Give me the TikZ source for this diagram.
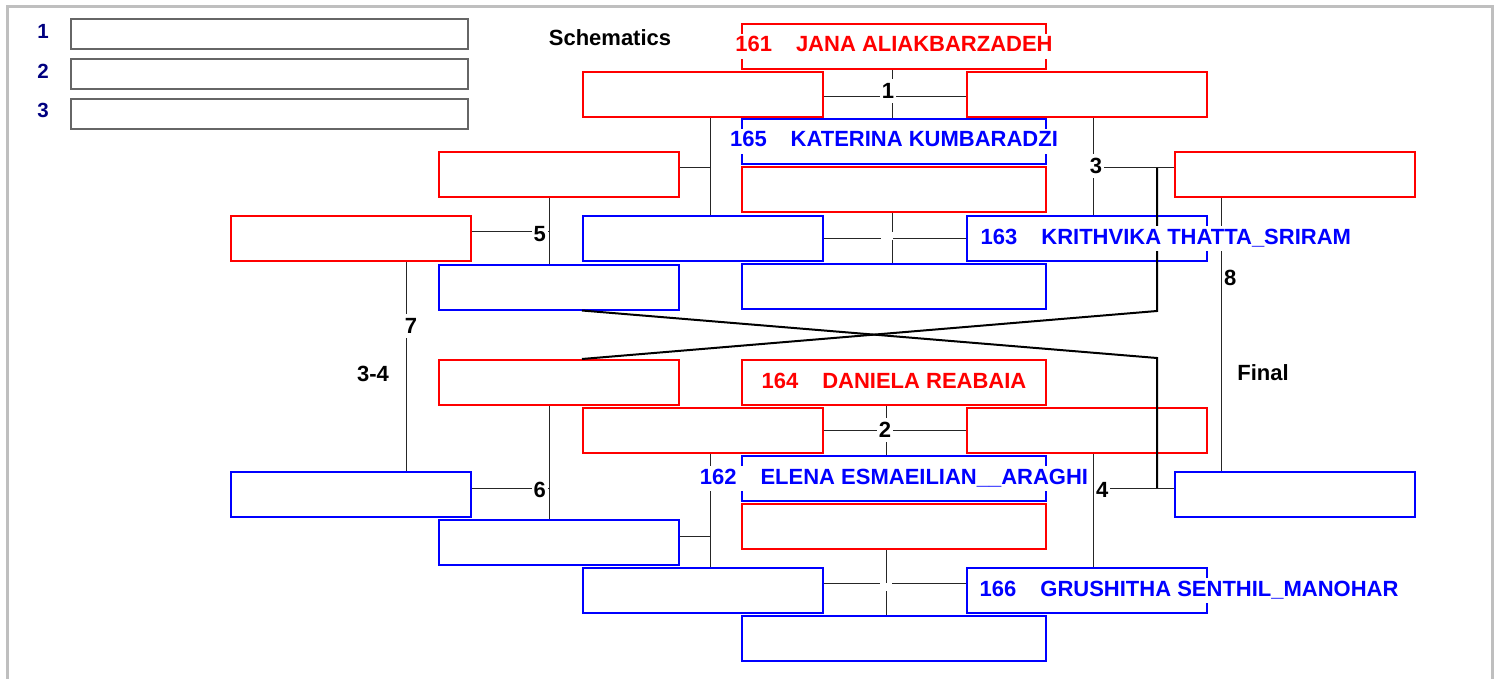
\documentclass[tikz,border=0pt]{standalone}
\usepackage{fontspec}
\setmainfont{Liberation Sans}
\usetikzlibrary{positioning}

\definecolor{seednavy}{RGB}{0,0,128}

\newcommand{\seed}[2]{#1\hspace{24pt}#2}

\tikzstyle{frame}=[
	draw=black!25,
	line width=3pt
]
\tikzstyle{slot}=[
	rectangle,
	line width=2pt,
	inner sep=0pt,
	minimum width=240pt,
	minimum height=45pt
]
\tikzstyle{wideslot}=[
	slot,
	minimum width=304pt
]
\tikzstyle{listslot}=[
	slot,
	draw=black!60,
	minimum width=397pt,
	minimum height=30pt
]
\tikzstyle{wire}=[
	line width=1pt,
	black!85
]
\tikzstyle{loser}=[
	line width=2pt,
	black
]
\tikzstyle{bout}=[
	fill=white,
	inner xsep=2pt,
	inner ysep=4pt,
	font=\bfseries\fontsize{22}{26}\selectfont
]
\tikzstyle{entrant}=[
	fill=white,
	inner sep=2pt,
	text height=16pt,
	text depth=5pt,
	font=\bfseries\fontsize{22}{26}\selectfont
]
\tikzstyle{caption}=[
	font=\bfseries\fontsize{22}{26}\selectfont
]
\tikzstyle{seedno}=[
	text=seednavy,
	font=\bfseries\fontsize{20.5}{24}\selectfont
]

\begin{document}
\begin{tikzpicture}[x=1pt,y=-1pt]
\useasboundingbox (0,0) rectangle (1499,679);
\draw[frame] (7,7) rectangle (1492,700);

% ranking list
\node [listslot] (list1) at (269.5,34) {};
\node [listslot] (list2)[below=8pt of list1] {};
\node [listslot] (list3)[below=8pt of list2] {};
\node [seedno] (no1) at (43,31) {1};
\node [seedno] (no2) at (43,71) {2};
\node [seedno] (no3) at (43,110) {3};

% upper half
\node [wideslot, draw=red] (top161) at (894,46.5) {};
\node [slot, draw=red] (m1a) at (703,95) {};
\node [slot, draw=red] (m1b) at (1086.5,95) {};
\node [wideslot, draw=blue] (top165) at (894,141.5) {};
\node [wideslot, draw=red] (win1) at (894,190) {};
\node [slot, draw=blue] (m9a) at (703,238.5) {};
\node [slot, draw=blue] (top163) at (1086.5,238.5) {};
\node [wideslot, draw=blue] (lose1) at (894,286.5) {};
\node [slot, draw=red] (q1) at (559,174.5) {};
\node [slot, draw=blue] (q2) at (559,287) {};
\node [slot, draw=red] (semi5) at (351,238.5) {};
\node [slot, draw=red] (fin3) at (1294.5,174.5) {};

% lower half
\node [wideslot, draw=red] (bot164) at (894,382.5) {};
\node [slot, draw=red] (m2a) at (703,430.5) {};
\node [slot, draw=red] (m2b) at (1086.5,430.5) {};
\node [wideslot, draw=blue] (bot162) at (894,478.5) {};
\node [wideslot, draw=red] (win2) at (894,526.5) {};
\node [slot, draw=blue] (m10a) at (703,590.5) {};
\node [slot, draw=blue] (bot166) at (1086.5,590.5) {};
\node [wideslot, draw=blue] (lose2) at (894,638.5) {};
\node [slot, draw=red] (q3) at (559,382.5) {};
\node [slot, draw=blue] (q4) at (559,542.5) {};
\node [slot, draw=blue] (semi6) at (351,494.5) {};
\node [slot, draw=blue] (fin4) at (1294.5,494.5) {};

% joints
\coordinate (k1) at (710,168);
\coordinate (k2) at (710,536);
\coordinate (k3) at (1093,168);
\coordinate (k4) at (1093,488);
\coordinate (k5) at (549,232);
\coordinate (k6) at (549,488);
\coordinate (x3) at (1157,168);
\coordinate (x4) at (1157,488);
\coordinate (bendA) at (1157,311);
\coordinate (bendB) at (1157,358);

% connectors
\draw[wire] ([yshift=-2pt]m1a.east) -- ([yshift=-2pt]m1b.west);
\draw[wire] ([xshift=-2pt]top161.south) -- ([xshift=-2pt]top165.north);
\draw[wire] (m9a.east) -- (top163.west);
\draw[wire] ([xshift=-2pt]win1.south) -- ([xshift=-2pt]lose1.north);
\draw[wire] ([xshift=7pt]m1a.south) -- ([xshift=7pt]m9a.north);
\draw[wire] ([yshift=6.5pt]q1.east) -- (k1);
\draw[wire] ([xshift=6.5pt]m1b.south) -- ([xshift=6.5pt]top163.north);
\draw[wire] ([yshift=6.5pt]fin3.west) -- (k3);
\draw[wire] ([xshift=-10pt]q1.south) -- ([xshift=-10pt]q2.north);
\draw[wire] ([yshift=6.5pt]semi5.east) -- (k5);
\draw[wire] ([xshift=55pt]semi5.south) -- ([xshift=55pt]semi6.north);
\draw[wire] ([xshift=-73.5pt]fin3.south) -- ([xshift=-73.5pt]fin4.north);

\draw[wire] (m2a.east) -- (m2b.west);
\draw[wire] ([xshift=-8pt]bot164.south) -- ([xshift=-8pt]bot162.north);
\draw[wire] ([yshift=7.5pt]m10a.east) -- ([yshift=7.5pt]bot166.west);
\draw[wire] ([xshift=-8pt]win2.south) -- ([xshift=-8pt]lose2.north);
\draw[wire] ([xshift=7pt]m2a.south) -- ([xshift=7pt]m10a.north);
\draw[wire] ([yshift=6.5pt]q4.east) -- (k2);
\draw[wire] ([xshift=6.5pt]m2b.south) -- ([xshift=6.5pt]bot166.north);
\draw[wire] (k4) -- ([yshift=6.5pt]fin4.west);
\draw[wire] ([xshift=-10pt]q3.south) -- ([xshift=-10pt]q4.north);
\draw[wire] ([yshift=6.5pt]semi6.east) -- (k6);

\draw[loser] (x3) -- (bendA) -- ([xshift=23pt]q3.north);
\draw[loser] ([xshift=23pt]q2.south) -- (bendB) -- (x4);

% match numbers
\node [bout] (b1) at (888,91) {1};
\node [bout, minimum width=12pt] (b9) at (887,236) {};
\node [bout] (b3) at (1096,166) {3};
\node [bout, anchor=east] (b5) at (548,234) {5};
\node [bout] (b7) at (411,326) {7};
\node [bout, anchor=west] (b8) at (1222,278) {8};
\node [bout] (b2) at (885,430) {2};
\node [bout, minimum width=12pt] (b10) at (886,587) {};
\node [bout, anchor=west] (b4) at (1094,490) {4};
\node [bout, anchor=east] (b6) at (548,490) {6};

% headings
\node [caption] (schem) at (610,37.5) {Schematics};
\node [caption] (final) at (1263,373) {Final};
\node [caption] (third) at (373,373.5) {3-4};

% entrants
\node [entrant, text=red] (n161) at (top161) {\seed{161}{JANA ALIAKBARZADEH}};
\node [entrant, text=blue] (n165) at (top165) {\seed{165}{KATERINA KUMBARADZI}};
\node [entrant, text=blue, right=13pt of top163.west] (n163) {\seed{163}{KRITHVIKA THATTA\_SRIRAM}};
\node [entrant, text=red] (n164) at (bot164) {\seed{164}{DANIELA REABAIA}};
\node [entrant, text=blue] (n162) at (bot162) {\seed{162}{ELENA ESMAEILIAN\_\_ARAGHI}};
\node [entrant, text=blue, right=12pt of bot166.west] (n166) {\seed{166}{GRUSHITHA SENTHIL\_MANOHAR}};
\end{tikzpicture}
\end{document}
